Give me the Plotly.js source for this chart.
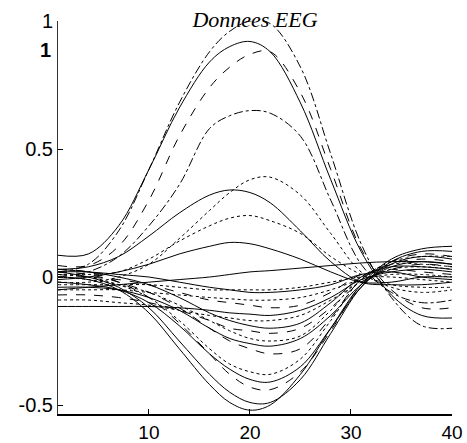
<!DOCTYPE html>
<html>
<head>
<meta charset="utf-8">
<script src="https://cdn.plot.ly/plotly-3.0.1.min.js"></script>
<style>html,body{margin:0;padding:0;background:#fff;}#chart{width:467px;height:443px;}</style>
</head>
<body>
<div id="chart"></div>
<script>
// sample positions (x)
const xs = [1, 4, 7, 10, 13, 16, 18, 20, 22, 25, 28, 31, 34, 37, 40];

// positive-peaked channels
const pA = [0.085, 0.09, 0.20, 0.42, 0.66, 0.84, 0.90, 0.92, 0.88, 0.68, 0.38, 0.10, -0.07, -0.15, -0.16];
const pB = [0.02, 0.05, 0.18, 0.42, 0.68, 0.88, 0.96, 1.00, 0.99, 0.82, 0.48, 0.13, -0.08, -0.19, -0.20];
const pC = [0.045, 0.045, 0.12, 0.30, 0.55, 0.74, 0.82, 0.87, 0.88, 0.72, 0.42, 0.11, -0.05, -0.12, -0.12];
const pD = [0.00, 0.02, 0.08, 0.20, 0.36, 0.58, 0.63, 0.65, 0.64, 0.55, 0.30, 0.05, -0.06, -0.10, -0.09];
const pE = [-0.02, -0.02, 0.00, 0.05, 0.15, 0.26, 0.33, 0.38, 0.39, 0.32, 0.17, 0.02, -0.04, -0.06, -0.05];
const pF = [0.03, 0.04, 0.08, 0.16, 0.25, 0.32, 0.34, 0.33, 0.29, 0.18, 0.06, -0.02, -0.03, -0.03, -0.02];
const pG = [0.01, 0.01, 0.02, 0.07, 0.14, 0.20, 0.23, 0.24, 0.22, 0.17, 0.08, 0.01, -0.03, -0.04, -0.04];
const pH = [-0.01, 0.00, 0.02, 0.05, 0.09, 0.12, 0.135, 0.13, 0.11, 0.07, 0.02, -0.02, -0.02, 0.00, 0.00];
const pL = [-0.05, -0.04, -0.03, -0.02, -0.01, 0.00, 0.01, 0.02, 0.025, 0.035, 0.045, 0.055, 0.06, 0.06, 0.05];

// negative-dipped channels
const n01 = [0.00, -0.01, -0.05, -0.14, -0.28, -0.42, -0.49, -0.52, -0.50, -0.38, -0.20, -0.03, 0.07, 0.11, 0.12];
const n02 = [0.02, 0.00, -0.04, -0.12, -0.25, -0.38, -0.45, -0.49, -0.49, -0.40, -0.22, -0.04, 0.06, 0.10, 0.10];
const n03 = [0.03, 0.02, -0.02, -0.08, -0.18, -0.30, -0.38, -0.43, -0.44, -0.37, -0.21, -0.03, 0.06, 0.09, 0.08];
const n04 = [-0.02, -0.03, -0.05, -0.10, -0.19, -0.30, -0.36, -0.40, -0.41, -0.35, -0.20, -0.04, 0.05, 0.08, 0.07];
const n05 = [0.01, 0.00, -0.03, -0.08, -0.17, -0.28, -0.34, -0.37, -0.38, -0.32, -0.17, -0.01, 0.06, 0.08, 0.08];
const n06 = [0.02, 0.01, -0.02, -0.06, -0.12, -0.20, -0.25, -0.28, -0.30, -0.28, -0.16, -0.01, 0.05, 0.07, 0.06];
const n07 = [-0.04, -0.04, -0.05, -0.08, -0.13, -0.20, -0.24, -0.26, -0.27, -0.24, -0.15, -0.03, 0.04, 0.06, 0.05];
const n08 = [0.00, -0.01, -0.03, -0.06, -0.11, -0.17, -0.21, -0.24, -0.25, -0.23, -0.13, 0.00, 0.05, 0.05, 0.04];
const n09 = [-0.07, -0.07, -0.08, -0.10, -0.13, -0.17, -0.20, -0.21, -0.22, -0.20, -0.12, -0.02, 0.03, 0.05, 0.04];
const n10 = [0.03, 0.02, 0.00, -0.03, -0.08, -0.14, -0.17, -0.19, -0.20, -0.18, -0.10, 0.00, 0.04, 0.04, 0.03];
const n11 = [-0.09, -0.09, -0.10, -0.11, -0.13, -0.15, -0.16, -0.17, -0.17, -0.15, -0.09, -0.02, 0.03, 0.04, 0.03];
const n12 = [-0.115, -0.115, -0.115, -0.115, -0.12, -0.13, -0.14, -0.145, -0.15, -0.13, -0.08, -0.01, 0.02, 0.03, 0.02];
const n13 = [0.01, 0.00, -0.01, -0.03, -0.06, -0.09, -0.10, -0.11, -0.12, -0.11, -0.06, 0.01, 0.03, 0.02, 0.01];
const n14 = [-0.05, -0.05, -0.05, -0.06, -0.07, -0.08, -0.085, -0.09, -0.09, -0.08, -0.05, -0.01, 0.01, 0.01, 0.00];
const n15 = [0.02, 0.02, 0.01, 0.00, -0.02, -0.04, -0.05, -0.06, -0.06, -0.05, -0.03, 0.01, 0.02, 0.00, -0.01];
const n16 = [-0.03, -0.03, -0.03, -0.03, -0.04, -0.05, -0.05, -0.05, -0.05, -0.04, -0.02, 0.00, 0.00, -0.01, -0.02];

const yTickVals = [-0.5, 0, 0.5, 1];
const yTickText = ['-0.5', '0', '0.5', '1'];
const xTickVals = [10, 20, 30, 40];
const xTickText = ['10', '20', '30', '40'];

const series = [pA, pB, pC, pD, pE, pF, pG, pH, pL,
  n01, n02, n03, n04, n05, n06, n07, n08, n09, n10, n11, n12, n13, n14, n15, n16];
const dashes = ['solid', 'dashdot', 'dash', 'dashdot', 'dot', 'solid', 'dot', 'solid', 'solid',
  'solid', 'solid', 'dash', 'solid', 'dot', 'dash', 'solid', 'dot', 'dash', 'solid', 'dot', 'solid', 'dash', 'dot', 'solid', 'dot'];

const traces = series.map((ys, i) => ({
  x: xs, y: ys, type: 'scatter', mode: 'lines',
  line: {color: '#000', width: 1, dash: dashes[i], shape: 'spline', smoothing: 1},
  hoverinfo: 'skip', showlegend: false
}));

const layout = {
  width: 467, height: 443,
  margin: {l: 58, r: 15, t: 21, b: 29},
  paper_bgcolor: '#fff', plot_bgcolor: '#fff',
  font: {family: 'Liberation Sans, Arial, sans-serif', size: 21, color: '#000'},
  title: {
    text: '<i>Donnees EEG</i>',
    font: {family: 'Liberation Serif, Times New Roman, serif', size: 22, color: '#000'},
    x: 0.5, xref: 'paper', xanchor: 'center',
    y: 1 - 19 / 443, yref: 'container', yanchor: 'middle'
  },
  xaxis: {
    range: [1, 40], tickvals: xTickVals, ticktext: xTickText,
    tickfont: {family: 'Liberation Sans, Arial, sans-serif', size: 19, color: '#000'},
    ticks: 'inside', ticklen: 5, tickcolor: '#000', tickwidth: 1,
    showline: true, linecolor: '#000', linewidth: 2,
    showgrid: false, zeroline: false, mirror: false, fixedrange: true
  },
  yaxis: {
    range: [-0.535, 1.0], tickvals: yTickVals, ticktext: yTickText,
    tickfont: {family: 'Liberation Sans, Arial, sans-serif', size: 20, color: '#000'},
    ticks: 'inside', ticklen: 5, tickcolor: '#000', tickwidth: 1,
    showline: true, linecolor: '#333', linewidth: 1,
    showgrid: false, zeroline: false, mirror: false, fixedrange: true
  },
  annotations: [{
    text: '<b>1</b>', xref: 'paper', yref: 'y', x: -0.012, y: 0.887,
    xanchor: 'right', yanchor: 'middle', showarrow: false,
    font: {family: 'Liberation Sans, Arial, sans-serif', size: 20, color: '#000'}
  }]
};

Plotly.newPlot('chart', traces, layout, {displayModeBar: false, staticPlot: true});
</script>
</body>
</html>
